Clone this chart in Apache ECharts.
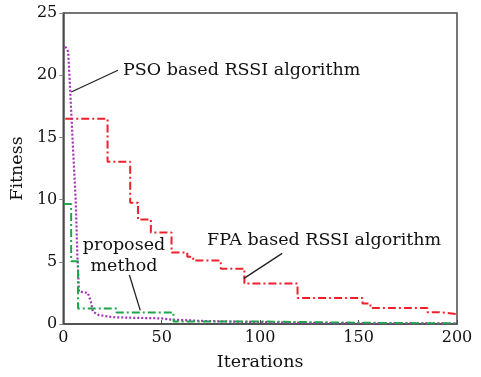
<!DOCTYPE html>
<html>
<head>
<meta charset="utf-8">
<script src="https://cdn.jsdelivr.net/npm/echarts@6/dist/echarts.min.js"></script>
<style>
  html, body { margin: 0; padding: 0; background: #fff; }
  #chart { width: 481px; height: 377px; }
</style>
</head>
<body>
<div id="chart"></div>
<script>
// step breakpoints [iteration, fitness]
var fpaData = [[1, 16.5], [22.5, 13.05], [34, 9.75], [38, 8.4], [44.5, 7.35], [55, 5.75], [63, 5.4], [66, 5.1], [80, 4.45],
  [92, 3.25], [119, 2.1], [152, 1.65], [156, 1.28], [185, 0.95], [191, 0.8], [200, 0.8]];
var psoData = [[1, 22.3], [2.5, 21.9], [3.5, 18.8], [5, 14], [6.3, 10], [7.2, 5.4], [8, 2.6], [12.5, 2.5], [14, 1.8],
  [15, 1.0], [18, 0.72], [25, 0.55], [35, 0.5], [50, 0.45], [55, 0.35], [70, 0.25], [90, 0.18], [120, 0.1], [150, 0.06], [200, 0.04]];
var proposedData = [[0.5, 9.65], [4, 5.05], [7.5, 1.25], [27, 0.93], [56, 0.2], [100, 0.1], [150, 0.05], [200, 0.05]];

var xTicks = { min: 0, max: 200, step: 50 };
var yTicks = { min: 0, max: 25, step: 5 };

// leader lines of the annotations, in data coordinates
var psoLeader = [[4.05, 18.65], [27.8, 20.4]];
var fpaLeader = [[91.8, 3.67], [111.2, 5.68]];
var proposedLeader = [[33.6, 3.94], [39.1, 1.1]];

var serif = 'DejaVu Serif';
var axisColor = '#4a4a4a';
var textColor = '#111';

var dom = document.getElementById('chart');
var myChart = echarts.init(dom, null, { renderer: 'canvas' });

function leader(pts) {
  return [{ coord: pts[0] }, { coord: pts[1] }];
}

var option = {
  animation: false,
  grid: {
    left: 62, top: 13, right: 24, bottom: 53,
    show: true, borderColor: axisColor, borderWidth: 1.5, backgroundColor: 'transparent'
  },
  xAxis: {
    type: 'value',
    min: xTicks.min, max: xTicks.max, interval: xTicks.step,
    name: 'Iterations', nameLocation: 'middle', nameGap: 29,
    nameTextStyle: { fontFamily: serif, fontSize: 17.5, color: textColor },
    axisLine: { lineStyle: { color: axisColor, width: 1.5 } },
    axisTick: { inside: true, length: 4, lineStyle: { color: axisColor } },
    axisLabel: { fontFamily: serif, fontSize: 16, color: textColor, margin: 6 },
    splitLine: { show: false }
  },
  yAxis: {
    type: 'value',
    min: yTicks.min, max: yTicks.max, interval: yTicks.step,
    name: 'Fitness', nameLocation: 'middle', nameGap: 34,
    nameTextStyle: { fontFamily: serif, fontSize: 17.5, color: textColor },
    axisLine: { lineStyle: { color: axisColor, width: 1.5 } },
    axisTick: { inside: false, length: 4, lineStyle: { color: '#888' } },
    axisLabel: { fontFamily: serif, fontSize: 16, color: textColor, margin: 6 },
    splitLine: { show: false }
  },
  series: [
    {
      name: 'FPA based RSSI algorithm',
      type: 'line',
      step: 'end',
      showSymbol: false,
      data: fpaData,
      lineStyle: { color: '#f0202a', width: 2, type: [8, 3, 2, 3] },
      markLine: {
        silent: true, symbol: 'none', label: { show: false },
        lineStyle: { color: '#222', width: 1.3, type: 'solid' },
        data: [leader(fpaLeader), leader(psoLeader), leader(proposedLeader)]
      }
    },
    {
      name: 'PSO based RSSI algorithm',
      type: 'line',
      showSymbol: false,
      data: psoData,
      lineStyle: { color: '#a52fb8', width: 2.2, type: [2, 2] }
    },
    {
      name: 'proposed method',
      type: 'line',
      step: 'end',
      showSymbol: false,
      data: proposedData,
      lineStyle: { color: '#1fa64a', width: 2, type: [8, 3, 2, 3] }
    }
  ],
  graphic: [
    { type: 'text', x: 123, y: 61,
      style: { text: 'PSO based RSSI algorithm', font: '17.5px "DejaVu Serif"', fill: textColor } },
    { type: 'text', x: 207, y: 231,
      style: { text: 'FPA based RSSI algorithm', font: '17.5px "DejaVu Serif"', fill: textColor } },
    { type: 'text', x: 124, y: 235,
      style: { text: 'proposed\nmethod', font: '17.5px "DejaVu Serif"', fill: textColor,
        align: 'center', verticalAlign: 'top', lineHeight: 21 } }
  ]
};

myChart.setOption(option);
window.addEventListener('resize', myChart.resize);
</script>
</body>
</html>
